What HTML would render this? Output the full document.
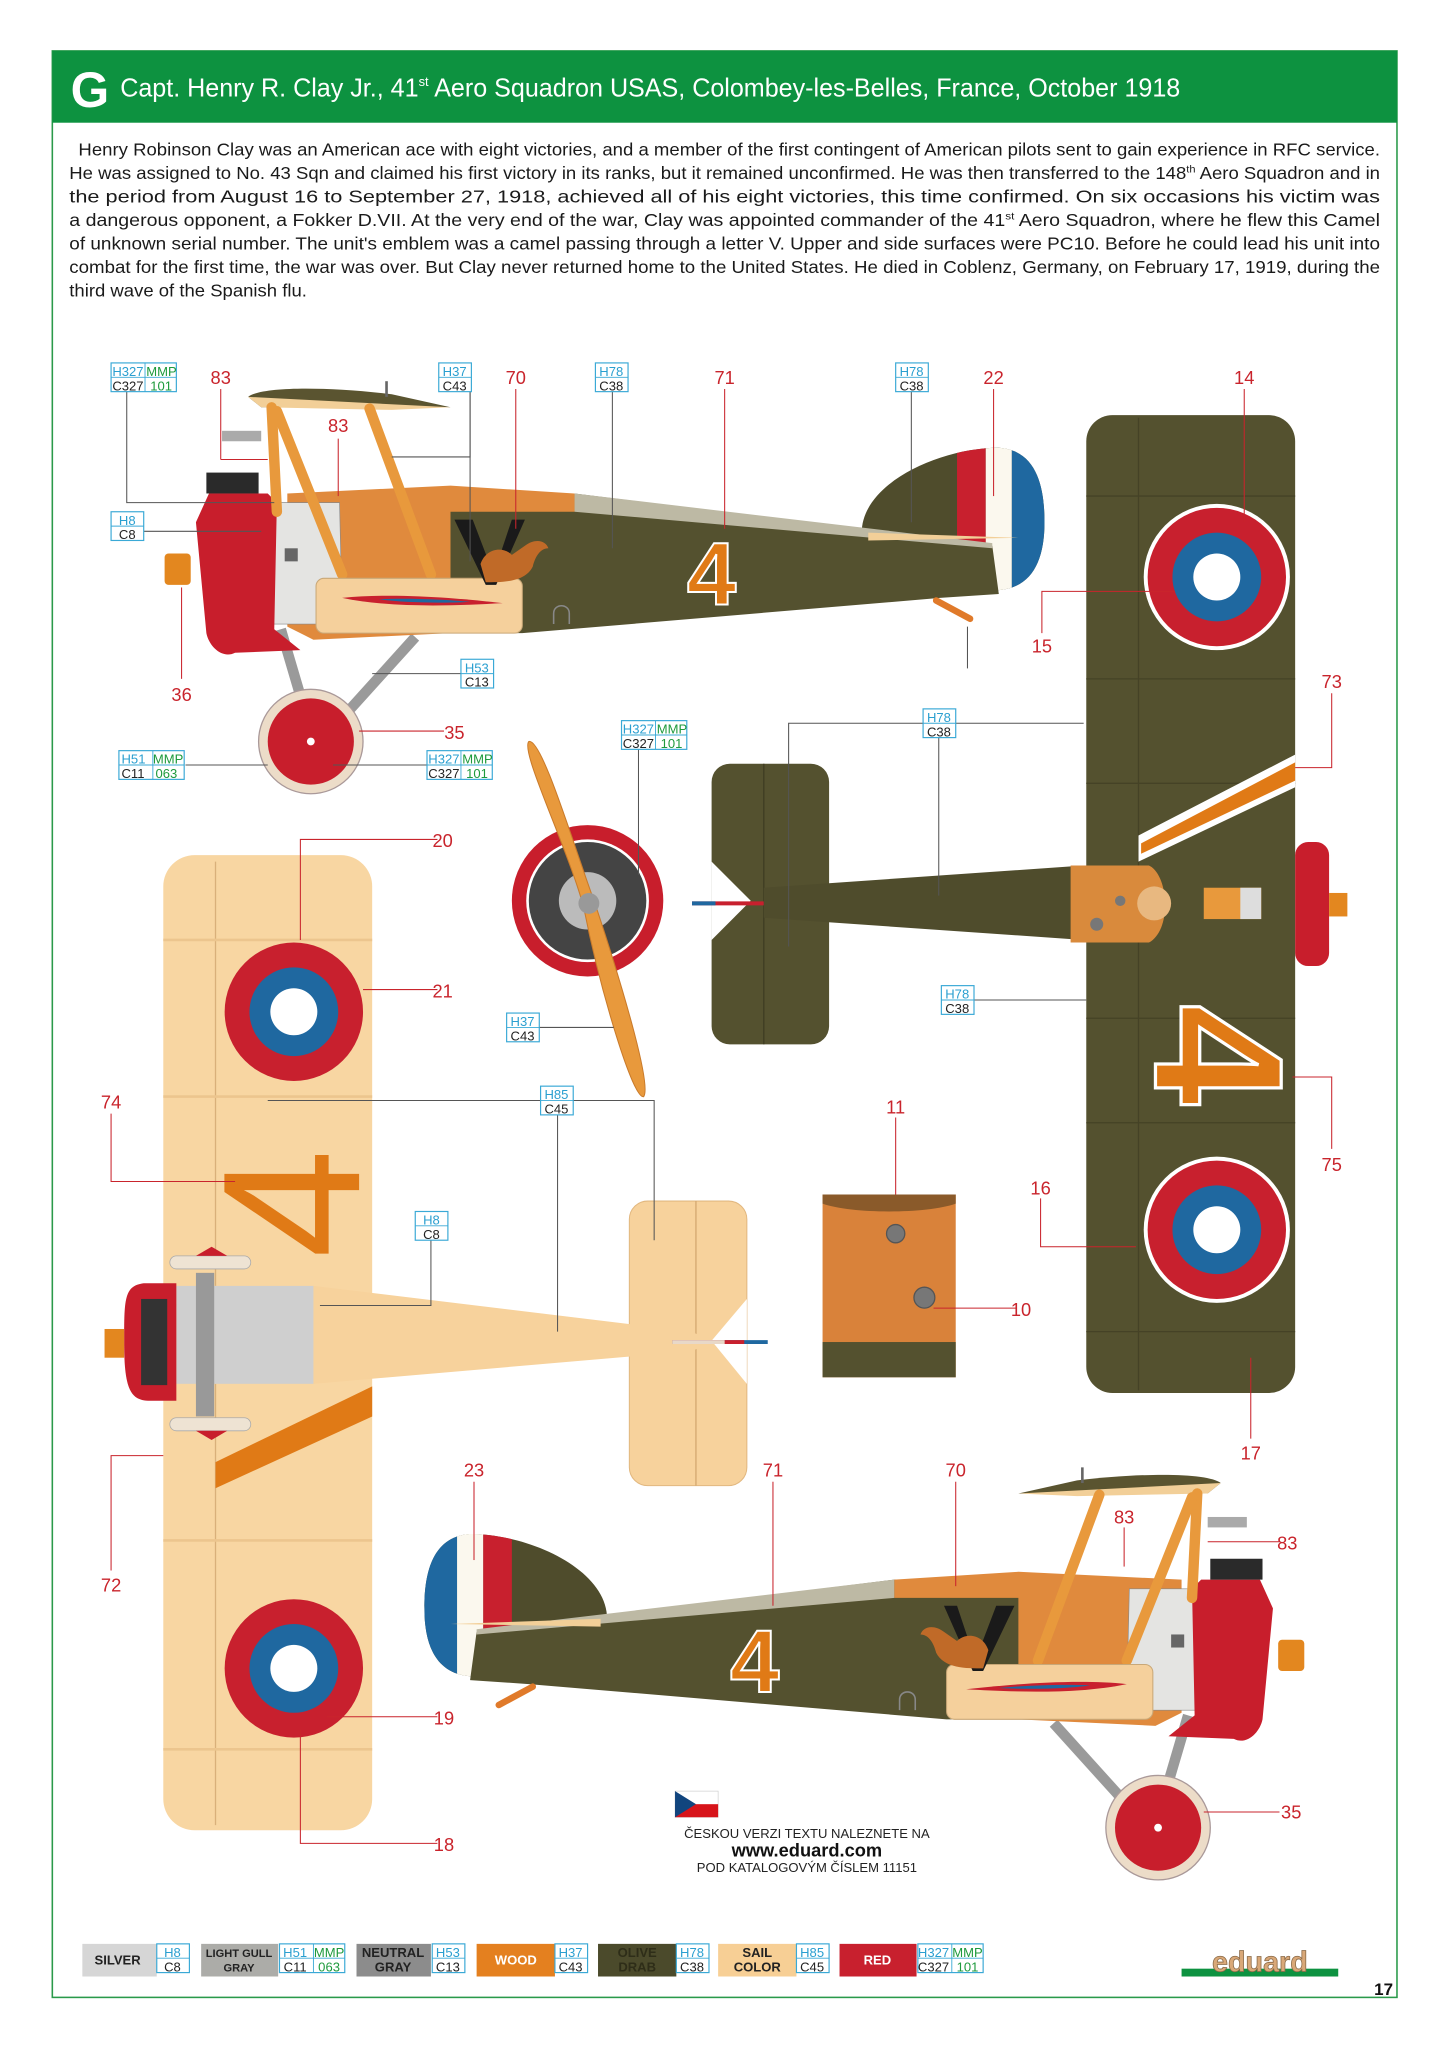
<!DOCTYPE html>
<html><head><meta charset="utf-8"><style>
html,body{margin:0;padding:0;background:#fff;}
svg{display:block;}
text{font-family:"Liberation Sans",sans-serif;}
.r{fill:#c9242c;font-size:14px;}
.bh{fill:#2a9fd0;font-size:10px;}
.bc{fill:#222;font-size:10px;}
.bm{fill:#1e9a3c;font-size:10px;}
.ld{stroke:#555;stroke-width:0.8;fill:none;}
.lr{stroke:#c9242c;stroke-width:0.8;fill:none;}
.p{font-size:13.4px;fill:#1a1a1a;}
</style></head><body>
<svg width="1448" height="2047" viewBox="0 0 1109 1568" xmlns="http://www.w3.org/2000/svg">
<defs>
<g id="box1"><rect x="0" y="0" width="25" height="22" fill="#fff" stroke="#3aa9d6" stroke-width="0.9"/><line x1="0" y1="11" x2="25" y2="11" stroke="#3aa9d6" stroke-width="0.7"/></g>
<g id="box2"><rect x="0" y="0" width="50" height="22" fill="#fff" stroke="#3aa9d6" stroke-width="0.9"/><line x1="0" y1="11" x2="50" y2="11" stroke="#3aa9d6" stroke-width="0.7"/><line x1="26" y1="0" x2="26" y2="22" stroke="#3aa9d6" stroke-width="0.7"/></g>
<g id="side">
 <line x1="215" y1="482" x2="238" y2="560" stroke="#9a9a9a" stroke-width="8"/>
 <line x1="318" y1="488" x2="262" y2="550" stroke="#9a9a9a" stroke-width="8"/>
 <circle cx="238" cy="568" r="40" fill="#ecdcc8" stroke="#a99" stroke-width="1"/>
 <circle cx="238" cy="568" r="33" fill="#c81e2c"/>
 <circle cx="238" cy="568" r="3" fill="#fff"/>
 <path d="M660,408 C660,370 720,343 765,343 C795,345 800,375 800,400 C800,430 790,450 765,452 L740,455 Z" fill="#4f4c2c"/>
 <clipPath id="fin"><path d="M660,408 C660,370 720,343 765,343 C795,345 800,375 800,400 C800,430 790,450 765,452 L740,455 Z"/></clipPath>
 <g clip-path="url(#fin)"><rect x="733" y="340" width="22" height="120" fill="#c8202e"/><rect x="755" y="340" width="20" height="120" fill="#fbf8ee"/><rect x="775" y="340" width="30" height="120" fill="#1f68a0"/></g>
 <path d="M340,380 L440,378 L760,418 L765,455 L720,458 L400,485 L330,485 Z" fill="#54512f"/>
 <path d="M440,378 L760,416 L760,420 L440,392 Z" fill="#bdb9a4"/>
 <path d="M665,408 L780,412 L665,414 Z" fill="#f2cf98"/>
 <path d="M220,378 L345,372 L440,378 L440,392 L345,392 L345,485 L240,490 L220,480 Z" fill="#e08a3d"/>
 <path d="M200,385 L260,385 L262,470 L250,478 L200,478 Z" fill="#e4e4e2" stroke="#888" stroke-width="0.5"/>
 <rect x="218" y="420" width="10" height="10" fill="#666"/>
 <path d="M160,378 L205,378 L212,385 L210,482 L230,498 L180,500 C170,505 160,495 158,485 L150,400 Z" fill="#c81e2c"/>
 <rect x="126" y="424" width="20" height="24" rx="3" fill="#e3871f"/>
 <rect x="158" y="362" width="40" height="16" fill="#2a2a2a"/>
 <rect x="170" y="330" width="30" height="8" fill="#aaa"/>
 <path d="M190,304 C200,296 250,296 300,302 L345,312 L200,312 Z" fill="#5a5430"/>
 <path d="M190,304 L345,312 L300,314 L200,312 Z" fill="#f2cf98"/>
 <line x1="296" y1="292" x2="296" y2="304" stroke="#666" stroke-width="2"/>
 <line x1="208" y1="312" x2="212" y2="392" stroke="#e8993c" stroke-width="8" stroke-linecap="round"/>
 <line x1="212" y1="315" x2="262" y2="440" stroke="#e8993c" stroke-width="8" stroke-linecap="round"/>
 <line x1="283" y1="313" x2="330" y2="440" stroke="#e8993c" stroke-width="8" stroke-linecap="round"/>
 <rect x="242" y="443" width="158" height="42" rx="6" fill="#f5d09c" stroke="#c9a878" stroke-width="0.8"/>
 <path d="M262,458 C300,454 350,458 385,462 C350,464 300,466 262,458 Z" fill="#c8202e"/>
 <path d="M290,459 C310,458 340,459 360,461 C340,462 310,462 290,459 Z" fill="#1f68a0"/>
 <line x1="717" y1="460" x2="743" y2="474" stroke="#e07a2a" stroke-width="5" stroke-linecap="round"/>
 <path d="M424,478 L424,470 C424,462 436,462 436,470 L436,478" fill="none" stroke="#888" stroke-width="1.2"/>
 <path d="M348,398 L362,398 L378,440 L392,398 L402,398 L380,448 L372,448 Z" fill="#1a1a1a"/>
 <path d="M368,432 C372,420 385,418 392,425 L402,418 C410,412 418,414 420,420 C414,420 410,426 408,434 C402,446 385,446 372,446 Z" fill="#c06a28"/>
</g>
</defs>

<rect x="40" y="39" width="1030" height="1491" fill="none" stroke="#2a9a4a" stroke-width="1.2"/>
<rect x="40" y="39" width="1030" height="55" fill="#0d9240"/>
<text x="54" y="82" fill="#fff" font-size="38" font-weight="bold">G</text>
<text x="92" y="74" fill="#fff" font-size="19.5" textLength="812" lengthAdjust="spacingAndGlyphs">Capt. Henry R. Clay Jr., 41<tspan font-size="10" dy="-8">st</tspan><tspan dy="8"> Aero Squadron USAS, Colombey-les-Belles, France, October 1918</tspan></text>

<g class="p">
<text x="60" y="119" textLength="997" lengthAdjust="spacingAndGlyphs">Henry Robinson Clay was an American ace with eight victories, and a member of the first contingent of American pilots sent to gain experience in RFC service.</text>
<text x="53" y="137" textLength="1004" lengthAdjust="spacingAndGlyphs">He was assigned to No. 43 Sqn and claimed his first victory in its ranks, but it remained unconfirmed. He was then transferred to the 148<tspan font-size="8" dy="-5">th</tspan><tspan dy="5"> Aero Squadron and in</tspan></text>
<text x="53" y="155" textLength="1004" lengthAdjust="spacingAndGlyphs">the period from August 16 to September 27, 1918, achieved all of his eight victories, this time confirmed. On six occasions his victim was</text>
<text x="53" y="173" textLength="1004" lengthAdjust="spacingAndGlyphs">a dangerous opponent, a Fokker D.VII. At the very end of the war, Clay was appointed commander of the 41<tspan font-size="8" dy="-5">st</tspan><tspan dy="5"> Aero Squadron, where he flew this Camel</tspan></text>
<text x="53" y="191" textLength="1004" lengthAdjust="spacingAndGlyphs">of unknown serial number. The unit's emblem was a camel passing through a letter V. Upper and side surfaces were PC10. Before he could lead his unit into</text>
<text x="53" y="209" textLength="1004" lengthAdjust="spacingAndGlyphs">combat for the first time, the war was over. But Clay never returned home to the United States. He died in Coblenz, Germany, on February 17, 1919, during the</text>
<text x="53" y="227" textLength="182" lengthAdjust="spacingAndGlyphs">third wave of the Spanish flu.</text>
</g>

<use href="#side"/>
<text x="545" y="463" font-size="68" fill="#e07a16" stroke="#fff" stroke-width="1.5" text-anchor="middle" font-weight="bold">4</text>
<use href="#side" transform="translate(1125,832) scale(-1,1)"/>
<text x="578" y="1296" font-size="68" fill="#e07a16" stroke="#fff" stroke-width="1.5" text-anchor="middle" font-weight="bold">4</text>

<rect x="545" y="585" width="90" height="215" rx="14" fill="#54512f"/>
<path d="M545,660 L575,690 L545,720 Z" fill="#fff"/>
<line x1="585" y1="585" x2="585" y2="800" stroke="#3e3c22" stroke-width="1"/>
<path d="M530,692 L585,692" stroke="#c8202e" stroke-width="3"/><path d="M530,692 L548,692" stroke="#1f68a0" stroke-width="3"/>
<path d="M585,680 L830,663 L830,720 L585,703 Z" fill="#4f4c2c"/>
<rect x="832" y="318" width="160" height="749" rx="20" fill="#54512f"/>
<g stroke="#454226" stroke-width="1">
<line x1="872" y1="320" x2="872" y2="1065"/>
<line x1="832" y1="380" x2="992" y2="380"/><line x1="832" y1="520" x2="992" y2="520"/><line x1="832" y1="600" x2="992" y2="600"/><line x1="832" y1="780" x2="992" y2="780"/><line x1="832" y1="860" x2="992" y2="860"/><line x1="832" y1="1020" x2="992" y2="1020"/>
</g>
<circle cx="932" cy="442" r="56" fill="#fff"/><circle cx="932" cy="442" r="53" fill="#c8202e"/><circle cx="932" cy="442" r="34" fill="#1f68a0"/><circle cx="932" cy="442" r="18" fill="#fff"/>
<circle cx="932" cy="942" r="56" fill="#fff"/><circle cx="932" cy="942" r="53" fill="#c8202e"/><circle cx="932" cy="942" r="34" fill="#1f68a0"/><circle cx="932" cy="942" r="18" fill="#fff"/>
<path d="M872,640 L992,578 L992,603 L872,660 Z" fill="#fff"/><path d="M874,646 L992,584 L992,598 L874,654 Z" fill="#e07a16"/>
<text x="0" y="0" font-size="140" fill="#e07a16" stroke="#fff" stroke-width="2.5" font-weight="bold" text-anchor="middle" transform="translate(885,808) rotate(90)">4</text>
<path d="M820,663 L880,663 C895,670 898,712 880,722 L820,722 Z" fill="#d98a3c"/>
<circle cx="884" cy="692" r="13" fill="#e8b880"/>
<circle cx="840" cy="708" r="5" fill="#777"/><circle cx="858" cy="690" r="4" fill="#777"/>
<rect x="922" y="680" width="44" height="24" fill="#e8993c"/><rect x="950" y="680" width="16" height="24" fill="#ddd"/>
<rect x="992" y="645" width="26" height="95" rx="10" fill="#c81e2c"/>
<rect x="1018" y="684" width="14" height="18" fill="#e3871f"/>

<circle cx="450" cy="690" r="58" fill="#c81e2c"/>
<circle cx="450" cy="690" r="47" fill="#fff"/>
<circle cx="450" cy="690" r="45" fill="#444"/>
<circle cx="450" cy="690" r="22" fill="#bbb"/>
<path d="M405,568 C415,565 440,650 455,690 C470,735 500,830 493,840 C485,843 460,760 447,695 C435,650 398,575 405,568 Z" fill="#e8993c" stroke="#c97a2a" stroke-width="0.8"/>
<circle cx="451" cy="692" r="8" fill="#999"/>

<rect x="482" y="920" width="90" height="218" rx="14" fill="#f7d29c" stroke="#e2b880" stroke-width="0.8"/>
<path d="M572,995 L545,1027 L572,1060 Z" fill="#fff"/>
<line x1="533" y1="920" x2="533" y2="1138" stroke="#d4a870" stroke-width="1"/>
<rect x="125" y="655" width="160" height="747" rx="24" fill="#f8d6a2"/>
<g stroke="#ecc58e" stroke-width="2">
<line x1="165" y1="660" x2="165" y2="1398" stroke="#d9b07a" stroke-width="1"/>
<line x1="125" y1="720" x2="285" y2="720"/><line x1="125" y1="840" x2="285" y2="840"/><line x1="125" y1="1000" x2="285" y2="1000"/><line x1="125" y1="1180" x2="285" y2="1180"/><line x1="125" y1="1340" x2="285" y2="1340"/>
</g>
<circle cx="225" cy="775" r="53" fill="#c8202e"/><circle cx="225" cy="775" r="34" fill="#1f68a0"/><circle cx="225" cy="775" r="18" fill="#fff"/>
<circle cx="225" cy="1278" r="53" fill="#c8202e"/><circle cx="225" cy="1278" r="34" fill="#1f68a0"/><circle cx="225" cy="1278" r="18" fill="#fff"/>
<text x="0" y="0" font-size="150" fill="#e07a16" text-anchor="middle" transform="translate(275,922) rotate(-90)">4</text>
<path d="M165,1120 L285,1062 L285,1085 L165,1140 Z" fill="#e07a16"/>
<path d="M135,985 L240,985 L530,1020 L545,1028 L530,1035 L240,1060 L135,1060 Z" fill="#f7d29c"/>
<rect x="135" y="985" width="105" height="75" fill="#cfcfcf"/>
<rect x="150" y="975" width="14" height="110" fill="#999"/>
<rect x="130" y="962" width="62" height="10" rx="5" fill="#eee3d3" stroke="#aaa" stroke-width="0.6"/>
<rect x="130" y="1086" width="62" height="10" rx="5" fill="#eee3d3" stroke="#aaa" stroke-width="0.6"/>
<path d="M150,962 L162,955 L174,962 Z" fill="#c81e2c"/><path d="M150,1096 L162,1103 L174,1096 Z" fill="#c81e2c"/>
<path d="M135,983 L110,983 C95,985 95,995 95,1028 C95,1065 100,1073 115,1073 L135,1073 Z" fill="#c81e2c"/>
<rect x="108" y="995" width="20" height="66" fill="#333"/>
<rect x="80" y="1018" width="15" height="22" fill="#e3871f"/>
<path d="M515,1028 L588,1028" stroke="#1f68a0" stroke-width="3"/><path d="M515,1028 L570,1028" stroke="#c8202e" stroke-width="3"/><path d="M515,1028 L555,1028" stroke="#e8d8c8" stroke-width="3"/>

<rect x="630" y="915" width="102" height="140" fill="#d9823a"/>
<path d="M630,915 L732,915 L732,922 C710,930 652,930 630,922 Z" fill="#8a5a2a"/>
<rect x="630" y="1028" width="102" height="27" fill="#54512f"/>
<circle cx="686" cy="945" r="7" fill="#777" stroke="#555"/>
<circle cx="708" cy="994" r="8" fill="#777" stroke="#555"/>

<g class="ld">
<polyline points="97,300 97,385 210,385"/>
<polyline points="360,300 360,350 300,350"/>
<line x1="360" y1="300" x2="360" y2="430"/>
<line x1="469" y1="300" x2="469" y2="420"/>
<line x1="698" y1="300" x2="698" y2="400"/>
<line x1="110" y1="407" x2="200" y2="407"/>
<line x1="353" y1="516" x2="285" y2="516"/>
<line x1="142" y1="586" x2="205" y2="586"/>
<line x1="327" y1="586" x2="255" y2="586"/>
<line x1="489" y1="574" x2="489" y2="670"/>
<polyline points="604,725 604,554 707,554"/><line x1="732" y1="554" x2="830" y2="554"/>
<line x1="719" y1="565" x2="719" y2="686"/>
<line x1="746" y1="766" x2="832" y2="766"/>
<line x1="413" y1="787" x2="470" y2="787"/>
<polyline points="205,843 414,843"/><polyline points="439,843 501,843 501,950"/>
<line x1="427" y1="854" x2="427" y2="1020"/>
<polyline points="330,950 330,1000 245,1000"/>
<line x1="741" y1="480" x2="741" y2="512"/>
</g>
<g class="lr">
<line x1="169" y1="298" x2="169" y2="352"/><line x1="169" y1="352" x2="205" y2="352"/>
<line x1="259" y1="336" x2="259" y2="380"/>
<line x1="395" y1="298" x2="395" y2="405"/>
<line x1="555" y1="298" x2="555" y2="405"/>
<line x1="761" y1="298" x2="761" y2="380"/>
<line x1="953" y1="298" x2="953" y2="400"/>
<polyline points="798,485 798,453 900,453"/>
<polyline points="1020,531 1020,588 992,588"/>
<line x1="139" y1="520" x2="139" y2="450"/>
<line x1="340" y1="560" x2="275" y2="560"/>
<polyline points="335,643 230,643 230,720"/>
<line x1="335" y1="758" x2="278" y2="758"/>
<polyline points="85,853 85,905 180,905"/>
<line x1="686" y1="856" x2="686" y2="915"/>
<polyline points="797,918 797,955 870,955"/>
<line x1="778" y1="1002" x2="715" y2="1002"/>
<polyline points="1020,880 1020,825 990,825"/>
<line x1="958" y1="1102" x2="958" y2="1040"/>
<line x1="363" y1="1135" x2="363" y2="1195"/>
<line x1="592" y1="1135" x2="592" y2="1230"/>
<line x1="732" y1="1135" x2="732" y2="1215"/>
<line x1="861" y1="1170" x2="861" y2="1200"/>
<line x1="980" y1="1181" x2="925" y2="1181"/>
<polyline points="85,1203 85,1115 125,1115"/>
<line x1="335" y1="1315" x2="250" y2="1315"/>
<line x1="980" y1="1388" x2="922" y2="1388"/>
<polyline points="335,1412 230,1412 230,1325"/>
</g>

<g class="r" text-anchor="middle">
<text x="169" y="294">83</text><text x="259" y="331">83</text><text x="395" y="294">70</text><text x="555" y="294">71</text><text x="761" y="294">22</text><text x="953" y="294">14</text>
<text x="798" y="500">15</text><text x="1020" y="527">73</text><text x="139" y="537">36</text><text x="348" y="566">35</text>
<text x="339" y="649">20</text><text x="339" y="764">21</text><text x="85" y="849">74</text><text x="686" y="853">11</text>
<text x="797" y="915">16</text><text x="782" y="1008">10</text><text x="1020" y="897">75</text><text x="958" y="1118">17</text>
<text x="363" y="1131">23</text><text x="592" y="1131">71</text><text x="732" y="1131">70</text><text x="861" y="1167">83</text><text x="986" y="1187">83</text>
<text x="85" y="1219">72</text><text x="340" y="1321">19</text><text x="989" y="1393">35</text><text x="340" y="1418">18</text>
</g>

<g>
<use href="#box2" x="85" y="278"/><text class="bh" x="86" y="288">H327</text><text class="bm" x="112" y="288">MMP</text><text class="bc" x="86" y="299">C327</text><text class="bm" x="115" y="299">101</text>
<use href="#box1" x="336" y="278"/><text class="bh" x="339" y="288">H37</text><text class="bc" x="339" y="299">C43</text>
<use href="#box1" x="456" y="278"/><text class="bh" x="459" y="288">H78</text><text class="bc" x="459" y="299">C38</text>
<use href="#box1" x="686" y="278"/><text class="bh" x="689" y="288">H78</text><text class="bc" x="689" y="299">C38</text>
<use href="#box1" x="85" y="392"/><text class="bh" x="91" y="402">H8</text><text class="bc" x="91" y="413">C8</text>
<use href="#box1" x="353" y="505"/><text class="bh" x="356" y="515">H53</text><text class="bc" x="356" y="526">C13</text>
<use href="#box2" x="91" y="575"/><text class="bh" x="93" y="585">H51</text><text class="bm" x="117" y="585">MMP</text><text class="bc" x="93" y="596">C11</text><text class="bm" x="119" y="596">063</text>
<use href="#box2" x="327" y="575"/><text class="bh" x="328" y="585">H327</text><text class="bm" x="354" y="585">MMP</text><text class="bc" x="328" y="596">C327</text><text class="bm" x="357" y="596">101</text>
<use href="#box2" x="476" y="552"/><text class="bh" x="477" y="562">H327</text><text class="bm" x="503" y="562">MMP</text><text class="bc" x="477" y="573">C327</text><text class="bm" x="506" y="573">101</text>
<use href="#box1" x="707" y="543"/><text class="bh" x="710" y="553">H78</text><text class="bc" x="710" y="564">C38</text>
<use href="#box1" x="721" y="755"/><text class="bh" x="724" y="765">H78</text><text class="bc" x="724" y="776">C38</text>
<use href="#box1" x="388" y="776"/><text class="bh" x="391" y="786">H37</text><text class="bc" x="391" y="797">C43</text>
<use href="#box1" x="414" y="832"/><text class="bh" x="417" y="842">H85</text><text class="bc" x="417" y="853">C45</text>
<use href="#box1" x="318" y="928"/><text class="bh" x="324" y="938">H8</text><text class="bc" x="324" y="949">C8</text>
</g>

<rect x="517" y="1372" width="33" height="20" fill="#fff" stroke="#ccc" stroke-width="0.5"/>
<rect x="517" y="1382" width="33" height="10" fill="#d7141a"/>
<path d="M517,1372 L533,1382 L517,1392 Z" fill="#11457e"/>
<text x="618" y="1408" font-size="10" text-anchor="middle" fill="#222">ČESKOU VERZI TEXTU NALEZNETE NA</text>
<text x="618" y="1422" font-size="14" font-weight="bold" text-anchor="middle" fill="#111">www.eduard.com</text>
<text x="618" y="1434" font-size="10" text-anchor="middle" fill="#222">POD KATALOGOVÝM ČÍSLEM 11151</text>

<g font-size="10" text-anchor="middle" font-weight="bold">
<rect x="63" y="1489" width="57" height="25" fill="#d6d6d6"/><text x="90" y="1505" fill="#222">SILVER</text>
<use href="#box1" x="120" y="1489"/><text class="bh" x="132" y="1499" font-weight="normal">H8</text><text class="bc" x="132" y="1510" font-weight="normal">C8</text>
<rect x="154" y="1489" width="59" height="25" fill="#acaca8"/><text x="183" y="1499" fill="#222" font-size="8.5">LIGHT GULL</text><text x="183" y="1510" fill="#222" font-size="8.5">GRAY</text>
<use href="#box2" x="214" y="1489"/><text class="bh" x="226" y="1499" font-weight="normal">H51</text><text class="bm" x="252" y="1499" font-weight="normal">MMP</text><text class="bc" x="226" y="1510" font-weight="normal">C11</text><text class="bm" x="252" y="1510" font-weight="normal">063</text>
<rect x="273" y="1489" width="57" height="25" fill="#8c8c8c"/><text x="301" y="1499" fill="#222">NEUTRAL</text><text x="301" y="1510" fill="#222">GRAY</text>
<use href="#box1" x="331" y="1489"/><text class="bh" x="343" y="1499" font-weight="normal">H53</text><text class="bc" x="343" y="1510" font-weight="normal">C13</text>
<rect x="365" y="1489" width="60" height="25" fill="#e4801f"/><text x="395" y="1505" fill="#fff">WOOD</text>
<use href="#box1" x="425" y="1489"/><text class="bh" x="437" y="1499" font-weight="normal">H37</text><text class="bc" x="437" y="1510" font-weight="normal">C43</text>
<rect x="458" y="1489" width="60" height="25" fill="#4b4a2b"/><text x="488" y="1499" fill="#2e2d18">OLIVE</text><text x="488" y="1510" fill="#2e2d18">DRAB</text>
<use href="#box1" x="518" y="1489"/><text class="bh" x="530" y="1499" font-weight="normal">H78</text><text class="bc" x="530" y="1510" font-weight="normal">C38</text>
<rect x="550" y="1489" width="60" height="25" fill="#f7cf95"/><text x="580" y="1499" fill="#222">SAIL</text><text x="580" y="1510" fill="#222">COLOR</text>
<use href="#box1" x="610" y="1489"/><text class="bh" x="622" y="1499" font-weight="normal">H85</text><text class="bc" x="622" y="1510" font-weight="normal">C45</text>
<rect x="643" y="1489" width="59" height="25" fill="#c8202e"/><text x="672" y="1505" fill="#fff">RED</text>
<use href="#box2" x="703" y="1489"/><text class="bh" x="715" y="1499" font-weight="normal">H327</text><text class="bm" x="741" y="1499" font-weight="normal">MMP</text><text class="bc" x="715" y="1510" font-weight="normal">C327</text><text class="bm" x="741" y="1510" font-weight="normal">101</text>
</g>

<rect x="905" y="1508" width="120" height="6" fill="#0d9240"/>
<text x="965" y="1510" font-size="22" font-weight="bold" text-anchor="middle" fill="#d9a878" stroke="#8a6a48" stroke-width="0.6">eduard</text>
<text x="1067" y="1528" font-size="13" font-weight="bold" text-anchor="end" fill="#111">17</text>
</svg>
</body></html>
